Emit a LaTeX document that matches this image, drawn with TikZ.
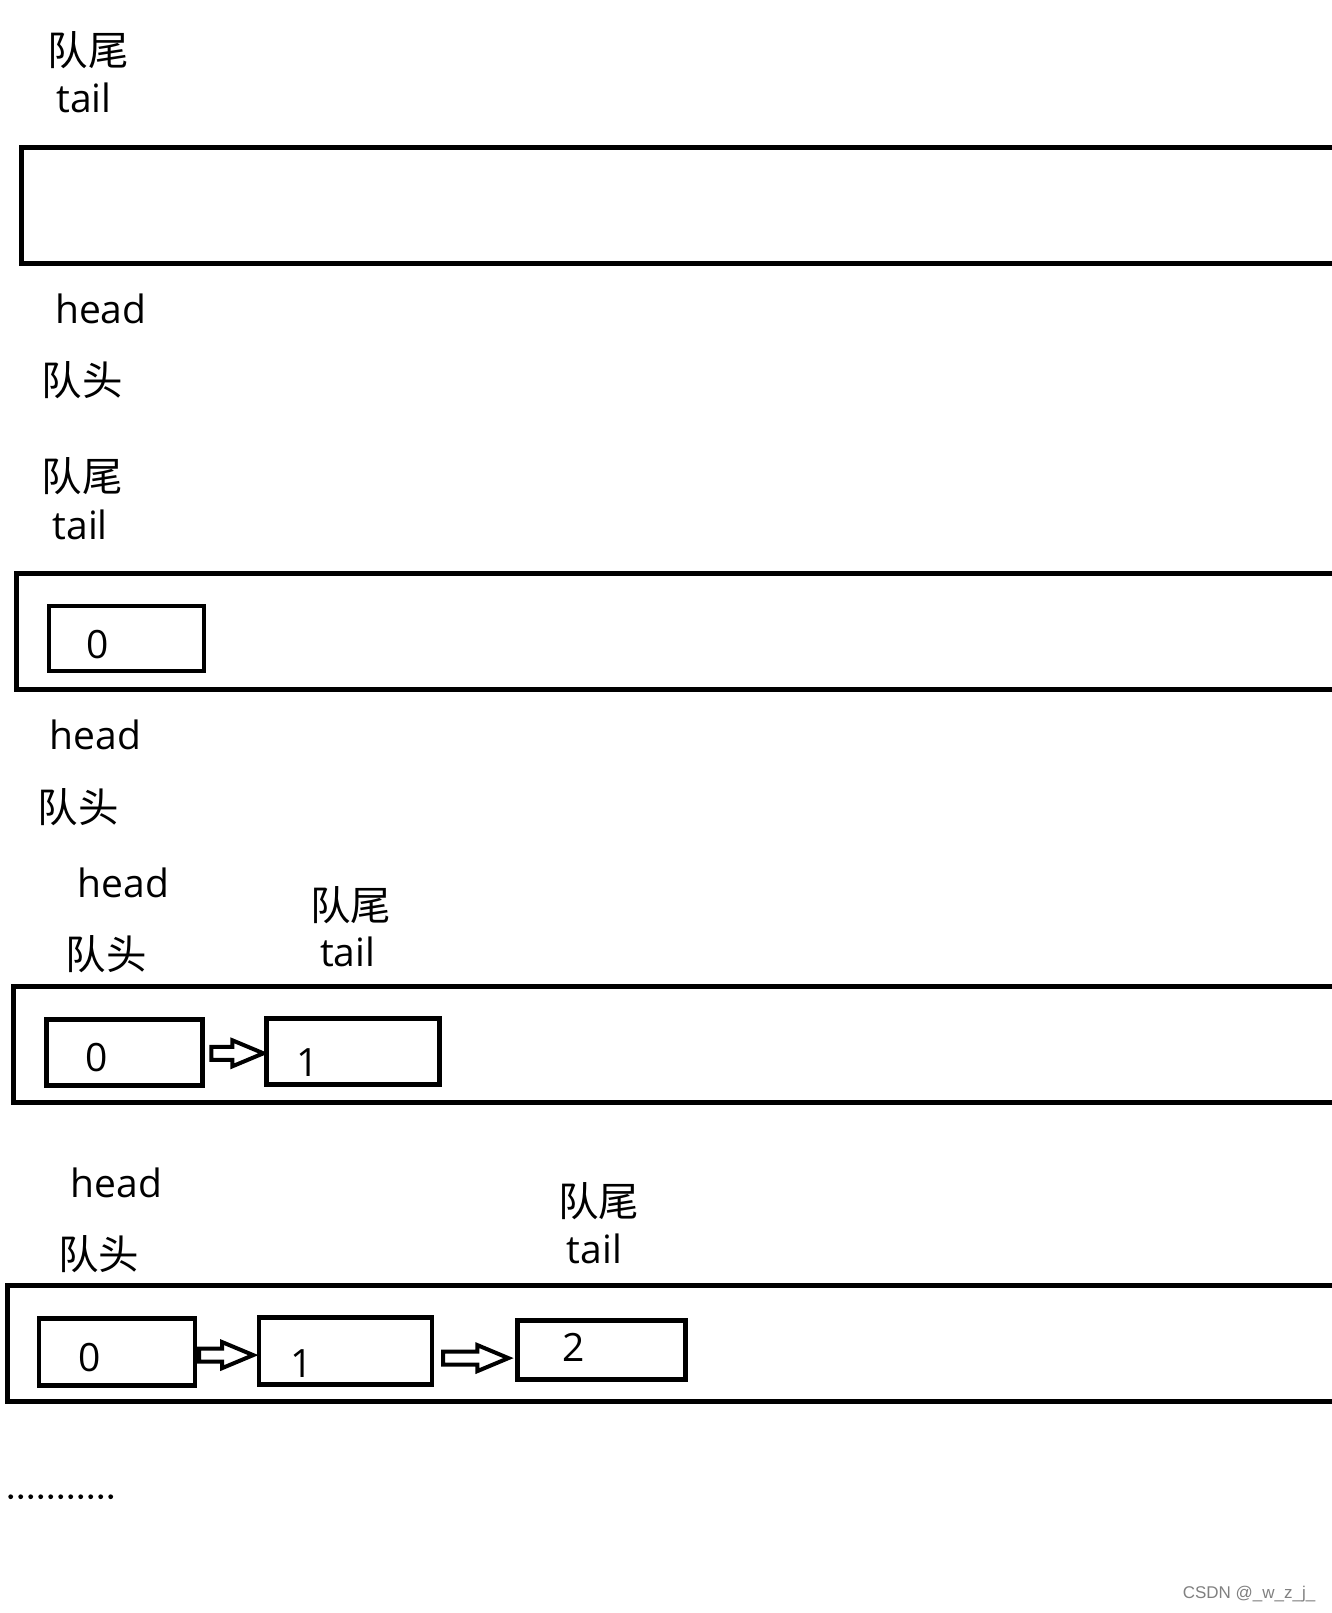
\documentclass[tikz,border=0pt]{standalone}
\usepackage{fontspec}
\setmainfont{Open Sans}
\newfontfamily\cjk{Noto Sans CJK SC}
\newfontfamily\wmfont{Liberation Sans}
\usetikzlibrary{calc}
\tikzset{
 lat/.style={font=\fontsize{39}{40}\selectfont, inner sep=0pt},
 zh/.style={font=\cjk\fontsize{40.5}{41}\selectfont, inner sep=0pt},
 queue/.style={draw, line width=5pt, rectangle, inner sep=0pt, outer sep=0pt, anchor=north west, minimum height=116pt},
 cell/.style={draw, line width=4.5pt, rectangle, inner sep=0pt, outer sep=0pt, anchor=north west},
 barrowstyle/.style={draw, line width=4pt, line join=miter, fill=white}
}
% #1 from anchor, #2 to anchor, #3 start gap, #4 end gap, #5 y offset (down)
\newcommand\blockarrow[5]{%
  \draw[barrowstyle] let \p1=(#1), \p2=(#2) in
   (\x1+#3,\y1-#5+6.5) -- (\x2-#4-31,\y1-#5+6.5) -- (\x2-#4-31,\y1-#5+13)
   -- (\x2-#4,\y1-#5) -- (\x2-#4-31,\y1-#5-13) -- (\x2-#4-31,\y1-#5-6.5)
   -- (\x1+#3,\y1-#5-6.5) -- cycle;}
\begin{document}
\begin{tikzpicture}[x=1pt,y=-1pt]
\useasboundingbox (0,0) rectangle (1332,1613);
\clip (0,0) rectangle (1332,1613);

% panel 1
\node[zh]  (t1z) at (88,50) {队尾};
\node[lat] (t1)  at (84,98) {tail};
\node[queue, minimum width=1330pt] (q1) at (21.7,147.5) {};
\node[lat] (h1)  at (100.8,308.6) {head};
\node[zh]  (h1z) at (82.3,380.6) {队头};

% panel 2
\node[zh]  (t2z) at (82.3,476) {队尾};
\node[lat] (t2)  at (80.2,524.6) {tail};
\node[queue, minimum width=1330pt] (q2) at (16.7,573) {};
\node[cell, minimum width=155pt, minimum height=65pt] (c20) at (49,606) {};
\node[lat] (n20) at (98,645) {0};
\node[lat] (h2)  at (95.7,734.4) {head};
\node[zh]  (h2z) at (78.2,807.4) {队头};

% panel 3
\node[lat] (h3)  at (123.4,882.5) {head};
\node[zh]  (h3z) at (106,954.5) {队头};
\node[zh]  (t3z) at (350.8,905.2) {队尾};
\node[lat] (t3)  at (347.7,951.5) {tail};
\node[queue, minimum width=1330pt] (q3) at (13.4,986.4) {};
\node[cell, minimum width=156pt, minimum height=66pt] (c30) at (46.3,1019.3) {};
\node[cell, minimum width=173pt, minimum height=66pt] (c31) at (266.4,1018.3) {};
\node[lat] (n30) at (96.7,1057.4) {0};
\node[lat] (n31) at (307.6,1062.5) {1};
\blockarrow{c30.east}{c31.west}{9}{3}{1}

% panel 4
\node[lat] (h4)  at (116.2,1183) {head};
\node[zh]  (h4z) at (98.7,1253.8) {队头};
\node[zh]  (t4z) at (598.6,1201.4) {队尾};
\node[lat] (t4)  at (594.5,1248.7) {tail};
\node[queue, minimum width=1330pt] (q4) at (7.2,1285.7) {};
\node[cell, minimum width=156pt, minimum height=67pt] (c40) at (39.1,1318.6) {};
\node[cell, minimum width=173pt, minimum height=67pt] (c41) at (259.2,1317.6) {};
\node[cell, minimum width=168pt, minimum height=59pt] (c42) at (517.4,1320.7) {};
\node[lat] (n40) at (89.5,1357.5) {0};
\node[lat] (n41) at (301.4,1363.9) {1};
\node[lat] (n42) at (574,1347.5) {2};
\blockarrow{c40.east}{c41.west}{4}{6}{3}
\blockarrow{c41.east}{c42.west}{11}{9}{7}

% dots
\foreach \i in {0,...,10} \fill (10.7+10*\i,1496.7) circle (2.4);

% watermark
\node[font=\wmfont\fontsize{17}{18}\selectfont, text=gray, inner sep=0pt] (wm) at (1249,1594) {CSDN @\_w\_z\_j\_};
\end{tikzpicture}
\end{document}
